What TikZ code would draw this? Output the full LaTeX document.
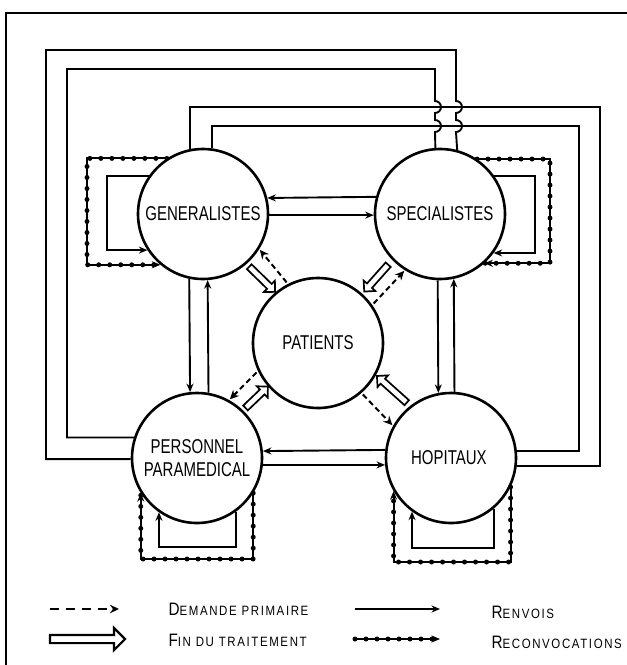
\documentclass[tikz,border=0pt]{standalone}
\usepackage{fontspec}
\usetikzlibrary{arrows.meta, calc, shapes.arrows}
\newfontfamily\circfont[FakeStretch=0.75]{Liberation Sans}
\newfontfamily\legfont[FakeStretch=0.85,LetterSpace=12]{Liberation Sans}
\newcommand{\petcap}[2]{{\fontsize{18}{20}\selectfont #1}{\fontsize{13.5}{15}\selectfont #2}}

\tikzset{
    acteur/.style={circle, draw, line width=2.6pt, minimum size=130pt, inner sep=0pt,
        align=center, font=\circfont\fontsize{20}{23}\selectfont},
    lien/.style={line width=1.9pt},
    renvoi/.style={lien, -{Stealth[length=8.5pt,width=7pt]}},
    demande/.style={line width=2pt, dash pattern=on 5.5pt off 3.5pt,
        -{Stealth[length=9pt,width=8.5pt]}, shorten >=1pt, shorten <=2pt},
    reconv/.style={renvoi, postaction={draw, -, line width=5pt, line cap=round,
        dash pattern=on 0pt off 11pt}},
    fin/.style={single arrow, draw, fill=white, line width=1.7pt, inner sep=0pt,
        inner ysep=2.5pt, single arrow head extend=4.5pt, sloped, allow upside down},
}

\begin{document}
\begin{tikzpicture}[x=1pt, y=-1pt]
        \useasboundingbox (0,0) rectangle (627,665);
        % cadre
        \draw[line width=2pt] (627,13) -- (6,13) -- (6,665);
        % acteurs
        \foreach \nm/\cx/\cy/\txt in
        {gen/203/214/GENERALISTES,
            spec/440/214/SPECIALISTES,
            pat/318/343/PATIENTS,
            pers/197/458/{PERSONNEL\\PARAMEDICAL},
            hop/451/458/HOPITAUX
        }
        {
            \node[acteur] (\nm) at (\cx,\cy) {\txt};
        };
        % renvois entre voisins
        \draw[renvoi] (spec.165.75) -- (gen.14.25);
        \draw[renvoi] (gen.-1.76) -- (spec.181.76);
        \draw[renvoi] (hop.173.82) -- (pers.6.18);
        \draw[renvoi] (pers.-6.18) -- (hop.186.18);
        \draw[renvoi] (gen.258.46) -- (pers.96.18);
        \draw[renvoi] (pers.80.26) -- (gen.274.41);
        \draw[renvoi] (spec.268.24) -- (hop.101.54);
        \draw[renvoi] (hop.87.35) -- (spec.282.44);
        % liaisons longues
        \coordinate (cGHa) at (600,107);
        \coordinate (cGHb) at (579,126);
        \coordinate (cPSa) at (46,50);
        \coordinate (cPSb) at (67,69);
        \draw[lien] (gen.101.54) |- (cGHa) |- (hop.-7.96);
        \draw[lien] (gen.82.93) |- (cGHb) |- (hop.6.18);
        \draw[lien] (pers.181.76) -| (cPSa) -| (456,101)
            arc[start angle=-90, end angle=90, radius=6] -- (456,120)
            arc[start angle=-90, end angle=90, radius=6] -- (spec.75.75);
        \draw[lien] (pers.162.08) -| (cPSb) -| (435,101)
            arc[start angle=-90, end angle=90, radius=6] -- (435,120)
            arc[start angle=-90, end angle=90, radius=6] -- (spec.94.41);
        % boucles
        \draw[reconv] (gen.123.84) -| (87,212) |- (gen.230.28);
        \draw[renvoi] (gen.145.3) -| (107,212) |- (gen.213.63);
        \draw[reconv] (spec.56.16) -| (550,212) |- (spec.-48.93);
        \draw[renvoi] (spec.35.77) -| (535,212) |- (spec.-36.87);
        \draw[reconv] (pers.-32.2) |- (197,559) -| (pers.212.2);
        \draw[renvoi] (pers.-54.23) |- (197,547) -| (pers.235.3);
        \draw[reconv] (hop.-26.83) |- (451,562) -| (hop.210.53);
        \draw[renvoi] (hop.-50.89) |- (451,548) -| (hop.234.23);
        % patients
        \draw[demande] (pat.117) -- (gen.-32.3);
        \path (gen.-49.7) -- node[fin, minimum height=36pt]{} (pat.130.1);
        \draw[demande] (pat.35.6) -- (spec.238.9);
        \path (spec.224.4) -- node[fin, minimum height=36pt]{} (pat.48.9);
        \draw[demande] (pat.205.2) -- (pers.61.2);
        \path (pers.46.2) -- node[fin, minimum height=31pt]{} (pat.221.3);
        \draw[demande] (pat.-49.8) -- (hop.151.6);
        \path (hop.128.8) -- node[fin, minimum height=40pt]{} (pat.-29.4);
        % legende
        \coordinate (cLa) at (48,609);
        \coordinate (cLb) at (120,609);
        \coordinate (cLc) at (48,639);
        \coordinate (cLd) at (123,639);
        \coordinate (cLe) at (355,609);
        \coordinate (cLf) at (440,609);
        \coordinate (cLg) at (355,639);
        \coordinate (cLh) at (440,639);
        \draw[demande, line width=2.6pt, dash pattern=on 9pt off 7pt] (cLa) -- (cLb);
        \path (cLc) -- node[fin, minimum height=75pt, single arrow head extend=7pt, inner ysep=3pt, line width=2.2pt]{} (cLd);
        \draw[renvoi] (cLe) -- (cLf);
        \draw[reconv] (cLg) -- (cLh);
        \node[anchor=west, font=\legfont] (lgDem) at (165,609) {\petcap{D}{EMANDE PRIMAIRE}};
        \node[anchor=west, font=\legfont] (lgFin) at (165,640) {\petcap{F}{IN DU TRAITEMENT}};
        \node[anchor=west, font=\legfont] (lgRen) at (488,612) {\petcap{R}{ENVOIS}};
        \node[anchor=west, font=\legfont] (lgRec) at (488,642) {\petcap{R}{ECONVOCATIONS}};
\end{tikzpicture}
\end{document}
